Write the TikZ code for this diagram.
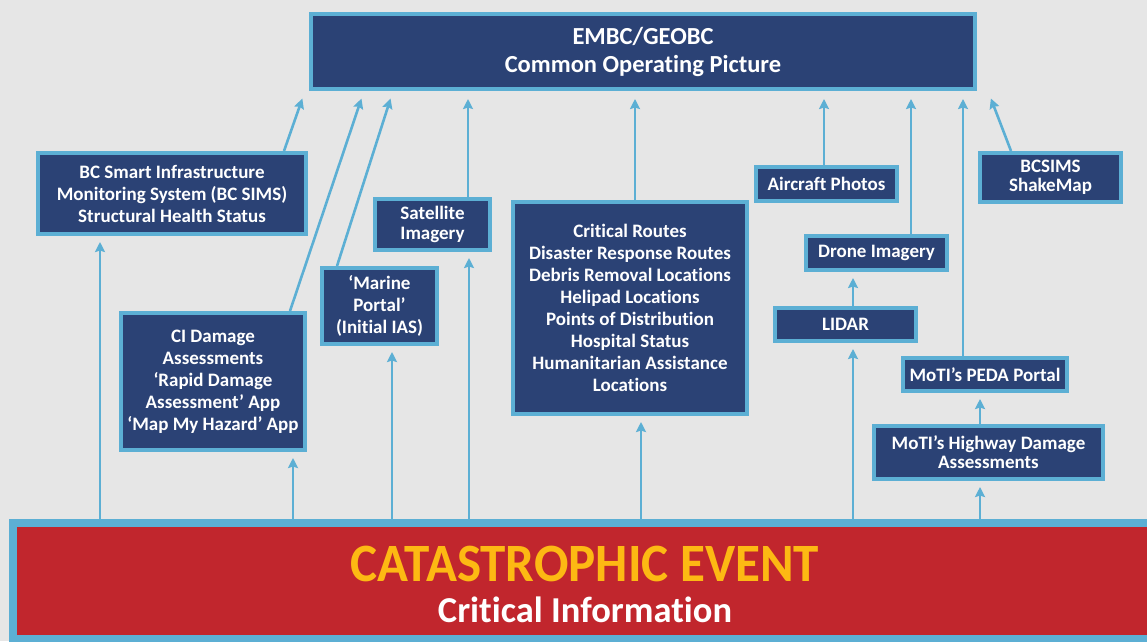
\documentclass[tikz,border=0pt]{standalone}
\usepackage{fontspec}
\setmainfont{Carlito}[Ligatures=CommonOff]
\usetikzlibrary{arrows.meta,positioning}

\definecolor{navy}{HTML}{2B4275}
\definecolor{skyline}{HTML}{5CAFD4}
\definecolor{alarm}{HTML}{C1262D}
\definecolor{amber}{HTML}{FDB913}
\definecolor{paper}{HTML}{E6E6E6}

\begin{document}
\begin{tikzpicture}[x=1pt,y=-1pt,>={Stealth[inset=1.5pt,length=10pt,width=10pt]},
    infobox/.style={draw=skyline,fill=navy,line width=4pt,text=white,align=center,
      inner sep=0pt,font=\bfseries\fontsize{19}{22}\selectfont},
    flow/.style={->,draw=skyline,line width=2.6pt,shorten >=6pt},
    toflow/.style={flow,shorten >=8pt}]
    \fill[paper] (0,0) rectangle (1147,641);
    \useasboundingbox (0,0) rectangle (1147,641);
    % top and bottom bars
    \node[infobox,minimum width=664pt,minimum height=75pt,
      font=\bfseries\fontsize{24.5}{28}\selectfont] (cop) at (643,51.5)
      {EMBC/GEOBC\\Common Operating Picture};
    \begin{scope}
      \clip (0,0) rectangle (1147,641);
      \node[draw=skyline,fill=alarm,line width=8pt,inner sep=0pt,align=center,
        minimum width=1144pt,minimum height=116pt,
        font=\bfseries\fontsize{36.5}{38}\selectfont] (event) at (585,581)
        {\rule{0pt}{43pt}\scalebox{0.945}[1]{\color{amber}\fontsize{54}{50}\selectfont CATASTROPHIC EVENT}\\[3pt]
         \color{white}Critical Information};
    \end{scope}
    % information sources
    \node[infobox,minimum width=268pt,minimum height=81pt] (sims) at (172,193.5)
      {BC Smart Infrastructure\\Monitoring System (BC SIMS)\\Structural Health Status};
    \node[infobox,minimum width=184pt,minimum height=137pt] (damage) at (213,381.5)
      {CI Damage\\Assessments\\‘Rapid Damage\\Assessment’ App\\‘Map My Hazard’ App};
    \node[infobox,minimum width=115pt,minimum height=76pt] (marine) at (379.5,306)
      {‘Marine\\Portal’\\(Initial IAS)};
    \node[infobox,minimum width=115pt,minimum height=51pt,
      font=\bfseries\fontsize{19}{20}\selectfont] (satellite) at (432.5,224.5)
      {Satellite\\Imagery};
    \node[infobox,minimum width=234pt,minimum height=212pt] (routes) at (630,308)
      {Critical Routes\\Disaster Response Routes\\Debris Removal Locations\\Helipad Locations\\
       Points of Distribution\\Hospital Status\\Humanitarian Assistance\\Locations};
    \node[infobox,minimum width=141pt,minimum height=34pt] (aircraft) at (826.5,184)
      {Aircraft Photos};
    \node[infobox,minimum width=141pt,minimum height=49pt,
      font=\bfseries\fontsize{19}{19}\selectfont] (shakemap) at (1050.5,177.5)
      {BCSIMS\\ShakeMap};
    \node[infobox,minimum width=141pt,minimum height=34pt] (drone) at (876.5,253)
      {Drone Imagery};
    \node[infobox,minimum width=141pt,minimum height=33pt] (lidar) at (845.5,324.5)
      {LIDAR};
    \node[infobox,minimum width=164pt,minimum height=33pt] (peda) at (985,374.5)
      {MoTI’s PEDA Portal};
    \node[infobox,minimum width=229pt,minimum height=53pt,
      font=\bfseries\fontsize{19}{19}\selectfont] (highway) at (988.5,452.5)
      {MoTI’s Highway Damage\\Assessments};
    % event feeds the sources
    \draw[flow] (event.north -| 100,0) -- (sims.south -| 100,0);
    \draw[flow] (event.north -| 293,0) -- (damage.south -| 293,0);
    \draw[flow] (event.north -| 392,0) -- (marine.south -| 392,0);
    \draw[flow] (event.north -| 469,0) -- (satellite.south -| 469,0);
    \draw[flow] (event.north -| 641,0) -- (routes.south -| 641,0);
    \draw[flow] (event.north -| 853,0) -- (lidar.south -| 853,0);
    \draw[flow] (event.north -| 980,0) -- (highway.south -| 980,0);
    \draw[flow] (lidar.north -| 853,0) -- (drone.south -| 853,0);
    \draw[flow] (highway.north -| 980,0) -- (peda.south -| 980,0);
    % sources feed the picture
    \draw[toflow] (sims.north -| 284,0) -- (cop.south -| 305,0);
    \draw[toflow] (damage.north -| 290,0) -- (cop.south -| 364,0);
    \draw[toflow] (marine.north -| 337,0) -- (cop.south -| 393,0);
    \draw[toflow] (satellite.north -| 468,0) -- (cop.south -| 468,0);
    \draw[toflow] (routes.north -| 635,0) -- (cop.south -| 635,0);
    \draw[toflow] (aircraft.north -| 824,0) -- (cop.south -| 824,0);
    \draw[toflow] (drone.north -| 911,0) -- (cop.south -| 911,0);
    \draw[toflow] (peda.north -| 963,0) -- (cop.south -| 963,0);
    \draw[toflow] (shakemap.north -| 1011,0) -- (cop.south -| 988,0);
\end{tikzpicture}
\end{document}
